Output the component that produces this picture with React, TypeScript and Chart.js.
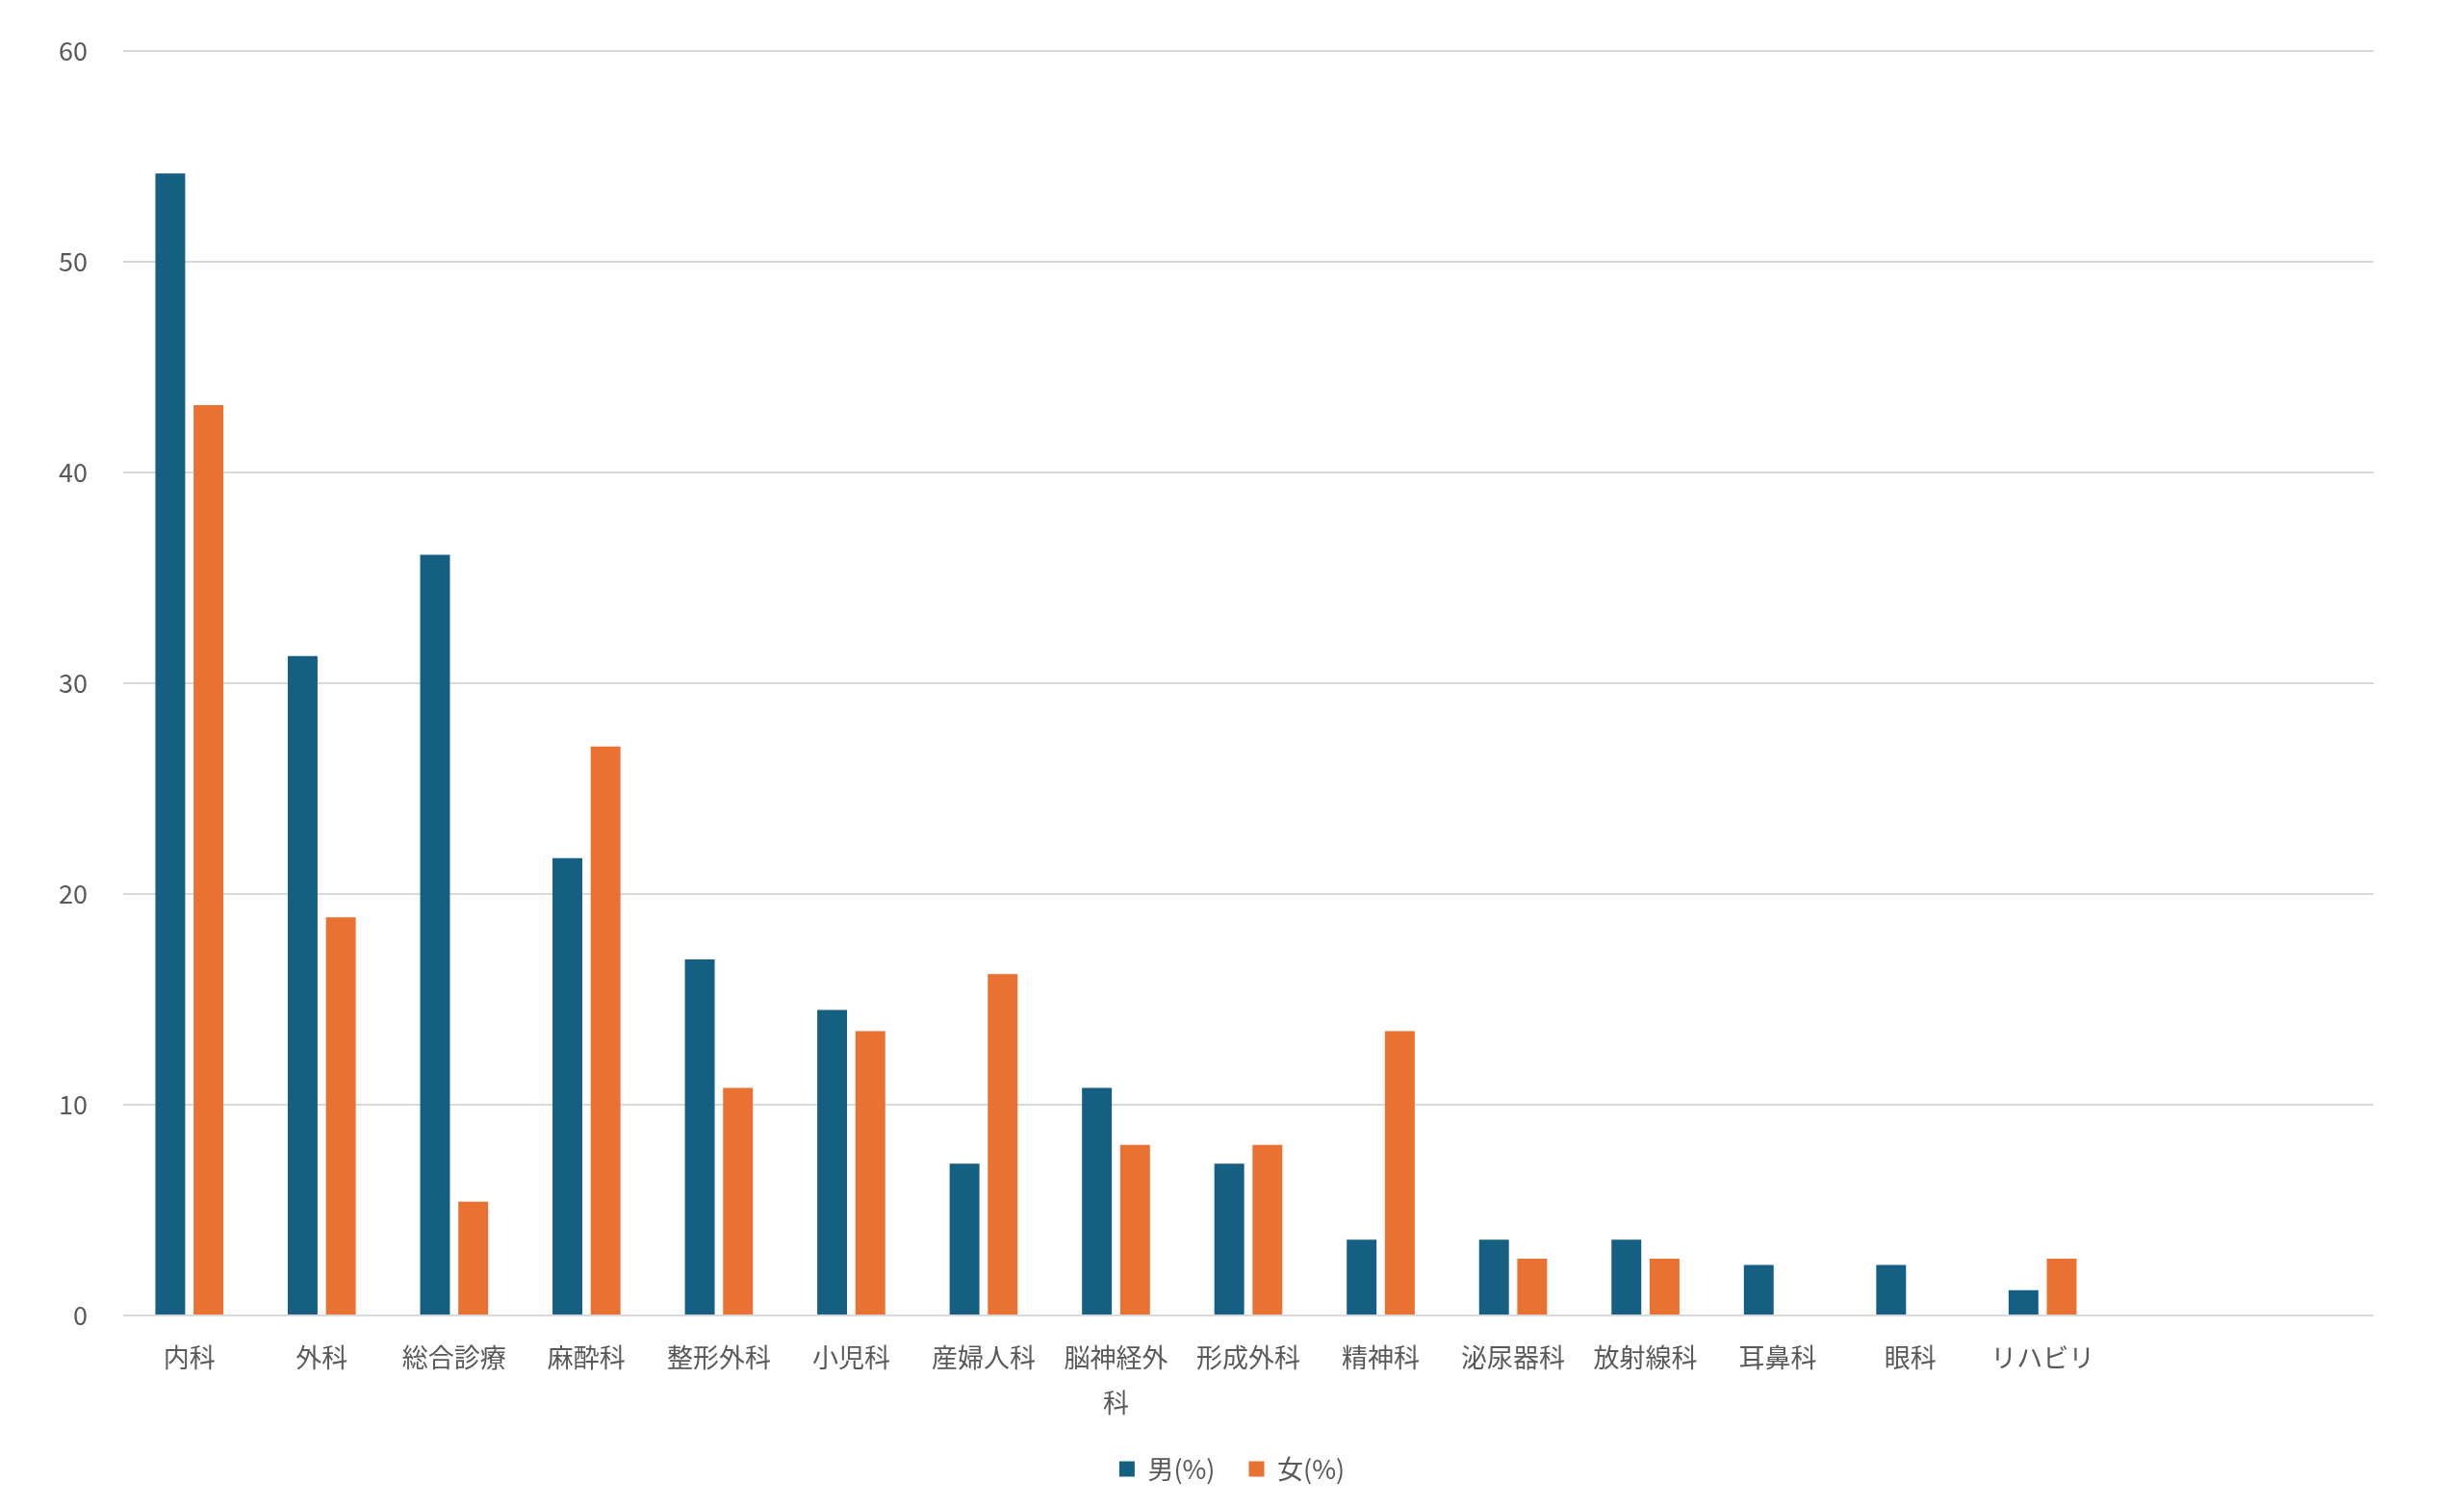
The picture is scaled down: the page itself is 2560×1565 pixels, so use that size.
import { useEffect, useRef } from "react";
import { Chart, registerables } from "chart.js";

Chart.register(...registerables);

// 診療科（最後の2つは空欄）
const categories: (string | string[])[] = [
  "内科",
  "外科",
  "総合診療",
  "麻酔科",
  "整形外科",
  "小児科",
  "産婦人科",
  ["脳神経外", "科"],
  "形成外科",
  "精神科",
  "泌尿器科",
  "放射線科",
  "耳鼻科",
  "眼科",
  "リハビリ",
  "",
  "",
];

const maleValues = [54.2, 31.3, 36.1, 21.7, 16.9, 14.5, 7.2, 10.8, 7.2, 3.6, 3.6, 3.6, 2.4, 2.4, 1.2, null, null];
const femaleValues = [43.2, 18.9, 5.4, 27.0, 10.8, 13.5, 16.2, 8.1, 8.1, 13.5, 2.7, 2.7, 0, 0, 2.7, null, null];

const seriesLabels = ["男(%)", "女(%)"];

const FONT = "'Noto Sans CJK JP', 'Noto Sans', sans-serif";
const TEXT = "#595959";
const GRID = "#d9d9d9";

export default function App() {
  const canvasRef = useRef<HTMLCanvasElement | null>(null);

  useEffect(() => {
    const el = canvasRef.current;
    if (!el) return;

    const chart = new Chart(el, {
      type: "bar",
      data: {
        labels: categories,
        datasets: [
          {
            label: seriesLabels[0],
            data: maleValues,
            backgroundColor: "#156082",
            borderWidth: 0,
            categoryPercentage: 0.577,
            barPercentage: 0.78,
          },
          {
            label: seriesLabels[1],
            data: femaleValues,
            backgroundColor: "#E97132",
            borderWidth: 0,
            categoryPercentage: 0.577,
            barPercentage: 0.78,
          },
        ],
      },
      options: {
        animation: false,
        responsive: true,
        maintainAspectRatio: false,
        layout: { padding: { left: 0, right: 0, top: 40, bottom: 15 } },
        scales: {
          x: {
            grid: { display: false, drawTicks: false },
            border: { display: false },
            ticks: {
              color: TEXT,
              font: { family: FONT, size: 27, lineHeight: 1.74 },
              padding: 20,
              maxRotation: 0,
              autoSkip: false,
            },
            afterFit: (axis) => {
              axis.height = 111;
            },
          },
          y: {
            min: 0,
            max: 60,
            ticks: {
              stepSize: 10,
              color: TEXT,
              font: { family: FONT, size: 27 },
              padding: 37,
            },
            grid: { color: GRID, lineWidth: 2, drawTicks: false },
            border: { display: false },
            afterFit: (axis) => {
              axis.width = 128;
            },
          },
          // 右側の余白用ダミー軸
          yRight: {
            position: "right",
            display: true,
            grid: { display: false, drawTicks: false },
            border: { display: false },
            ticks: { display: false },
            afterFit: (axis) => {
              axis.width = 94;
            },
          },
        },
        plugins: {
          legend: {
            position: "bottom",
            labels: {
              boxWidth: 16,
              boxHeight: 16,
              padding: 35,
              color: TEXT,
              font: { family: FONT, size: 27 },
            },
          },
          tooltip: { enabled: false },
        },
      },
    });

    return () => {
      chart.destroy();
    };
  }, []);

  return (
    <div style={{ position: "fixed", left: 0, top: 0, width: 2560, height: 1565, background: "#fff" }}>
      <canvas ref={canvasRef} />
    </div>
  );
}
